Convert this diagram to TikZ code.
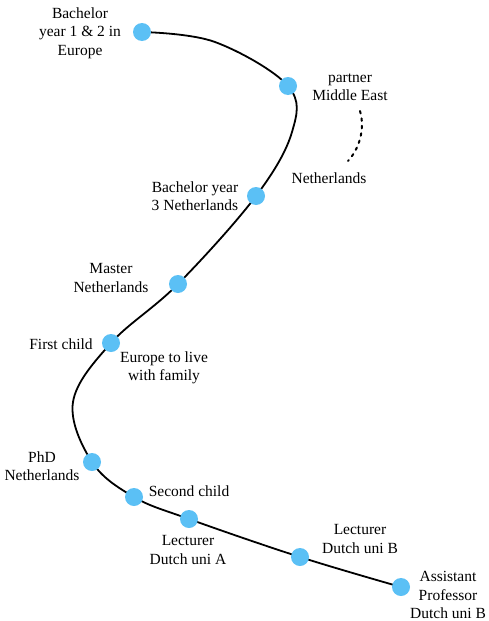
\documentclass[tikz,border=0pt]{standalone}
\usepackage{fontspec}
\setmainfont{Liberation Serif}
\definecolor{dotblue}{RGB}{91,192,245}
\begin{document}
\begin{tikzpicture}[x=1pt,y=-1pt,
  stop/.style={circle,fill=dotblue,minimum size=18pt,inner sep=0pt},
  lbl/.style={align=center,font=\fontsize{15.5}{18.5}\selectfont,inner sep=0pt},
  path/.style={line width=1.8pt,black}]
\useasboundingbox (0,0) rectangle (489,621);
% stops
\coordinate (b1) at (142,32);
\coordinate (p) at (288,86);
\coordinate (b3) at (256,196);
\coordinate (m) at (178,284);
\coordinate (f) at (111,343);
\coordinate (phd) at (92,462);
\coordinate (s) at (134,497);
\coordinate (la) at (189,519);
\coordinate (lb) at (300,557);
\coordinate (ap) at (401,587);
\coordinate (w1) at (215,42);
\coordinate (w2) at (292,132);
\coordinate (w3) at (73,402);
\draw[path] plot[smooth,tension=0.6] coordinates {(b1) (w1) (p) (w2) (b3) (m) (f) (w3) (phd) (s) (la) (lb) (ap)};
\foreach \n in {b1,p,b3,m,f,phd,s,la,lb,ap} \node[stop] (n\n) at (\n) {};
% labels
\node[lbl] (t1) at (80,33) {Bachelor\\year 1 \& 2 in\\Europe};
\node[lbl] (t2) at (350,87) {partner\\Middle East};
\node[lbl] (t3) at (329,178) {Netherlands};
\node[lbl] (t4) at (195,196) {Bachelor year\\3 Netherlands};
\node[lbl] (t5) at (111,278) {Master\\Netherlands};
\node[lbl] (t6) at (61,344) {First child};
\node[lbl] (t7) at (164,368) {Europe to live\\with family};
\node[lbl] (t8) at (42,466) {PhD\\Netherlands};
\node[lbl] (t9) at (189,491) {Second child};
\node[lbl] (t10) at (188,550) {Lecturer\\Dutch uni A};
\node[lbl] (t11) at (360,539) {Lecturer\\Dutch uni B};
\node[lbl] (t12) at (448,595) {Assistant\\Professor\\Dutch uni B};
% dotted arc
\coordinate (d1) at (360,111);
\coordinate (d2) at (348,161);
\draw[line width=2pt,dash pattern=on 2.5pt off 5pt,line cap=round] (d1) .. controls (365,128) and (360,148) .. (d2);
\end{tikzpicture}
\end{document}
